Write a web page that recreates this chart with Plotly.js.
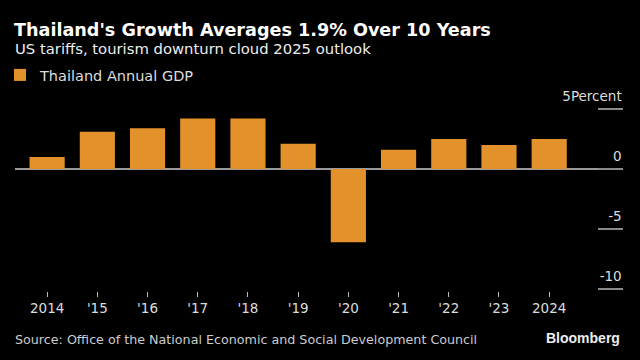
<!DOCTYPE html>
<html>
<head>
<meta charset="utf-8">
<script src="https://cdn.plot.ly/plotly-3.0.1.min.js"></script>
<style>html,body{margin:0;padding:0;background:#000;}#chart{width:640px;height:360px;}</style>
</head>
<body>
<div id="chart"></div>
<script>
const years = [2014, 2015, 2016, 2017, 2018, 2019, 2020, 2021, 2022, 2023, 2024];
const gdpGrowth = [1.0, 3.1, 3.4, 4.2, 4.2, 2.1, -6.1, 1.6, 2.5, 2.0, 2.5];
const xTickLabels = ["2014", "'15", "'16", "'17", "'18", "'19", "'20", "'21", "'22", "'23", "2024"];
const yTickValues = [-10, -5, 0, 5];
const yTickLabels = ["-10", "-5", "0", "5Percent"];
const seriesName = "Thailand Annual GDP";

const W = 640, H = 360;
const M = {l: 15, r: 17, t: 90, b: 69, autoexpand: false};
const plotH = H - M.t - M.b, plotW = W - M.l - M.r;
const py = p => (H - M.b - p) / plotH;
const px = p => (p - M.l) / plotW;
const FONT = "DejaVu Sans, Liberation Sans, sans-serif";

const data = [{
  type: "bar",
  x: years,
  y: gdpGrowth,
  name: seriesName,
  marker: {color: "#E3922B", line: {width: 0}},
  hoverinfo: "x+y"
}];

const layout = {
  width: W, height: H,
  margin: M,
  paper_bgcolor: "#000",
  plot_bgcolor: "#000",
  bargap: 0.3,
  font: {family: FONT, color: "#ddd", size: 13},
  title: {
    text: "<b>Thailand's Growth Averages 1.9% Over 10 Years</b>",
    font: {family: FONT, size: 17.6, color: "#fff"},
    x: 14 / W, xanchor: "left", xref: "container",
    y: 1 - 30 / H, yanchor: "middle", yref: "container"
  },
  showlegend: true,
  legend: {
    orientation: "h",
    xref: "container", yref: "container",
    x: 0, xanchor: "left",
    y: 1 - 75 / H, yanchor: "middle",
    font: {family: FONT, size: 14.5, color: "#ddd"},
    bgcolor: "rgba(0,0,0,0)",
    itemwidth: 30
  },
  xaxis: {
    range: [2013.36, 2025.47],
    tickmode: "array",
    tickvals: years,
    ticktext: xTickLabels,
    ticks: "outside",
    ticklen: 5,
    tickwidth: 1,
    tickcolor: "#bbb",
    showgrid: false,
    zeroline: false,
    showline: false,
    ticklabeloverflow: "allow",
    tickfont: {family: FONT, size: 13.5, color: "#ddd"},
    fixedrange: true
  },
  yaxis: {
    range: [-10.17, 6.58],
    side: "right",
    tickmode: "array",
    tickvals: yTickValues,
    ticktext: yTickLabels,
    ticks: "inside",
    ticklen: 25,
    tickwidth: 2,
    tickcolor: "#8a8a8a",
    ticklabelposition: "inside",
    ticklabelshift: -13,
    ticklabelstandoff: -24,
    ticklabeloverflow: "allow",
    showgrid: false,
    zeroline: true,
    zerolinecolor: "#9a9a9a",
    zerolinewidth: 2,
    showline: false,
    tickfont: {family: FONT, size: 13.5, color: "#ddd"},
    fixedrange: true
  },
  annotations: [
    {
      text: "US tariffs, tourism downturn cloud 2025 outlook",
      xref: "paper", yref: "paper",
      x: px(13), y: py(48), xanchor: "left", yanchor: "middle",
      showarrow: false,
      font: {family: FONT, size: 14.8, color: "#eee"}
    },
    {
      text: "Source: Office of the National Economic and Social Development Council",
      xref: "paper", yref: "paper",
      x: px(13), y: py(339), xanchor: "left", yanchor: "middle",
      showarrow: false,
      font: {family: FONT, size: 12.7, color: "#ccc"}
    },
    {
      text: "<b>Bloomberg</b>",
      xref: "paper", yref: "paper",
      x: px(622), y: py(338), xanchor: "right", yanchor: "middle",
      showarrow: false,
      font: {family: "Liberation Sans, Arial, sans-serif", size: 14, color: "#eee"}
    }
  ]
};

Plotly.newPlot("chart", data, layout, {displayModeBar: false, staticPlot: true});
</script>
</body>
</html>
